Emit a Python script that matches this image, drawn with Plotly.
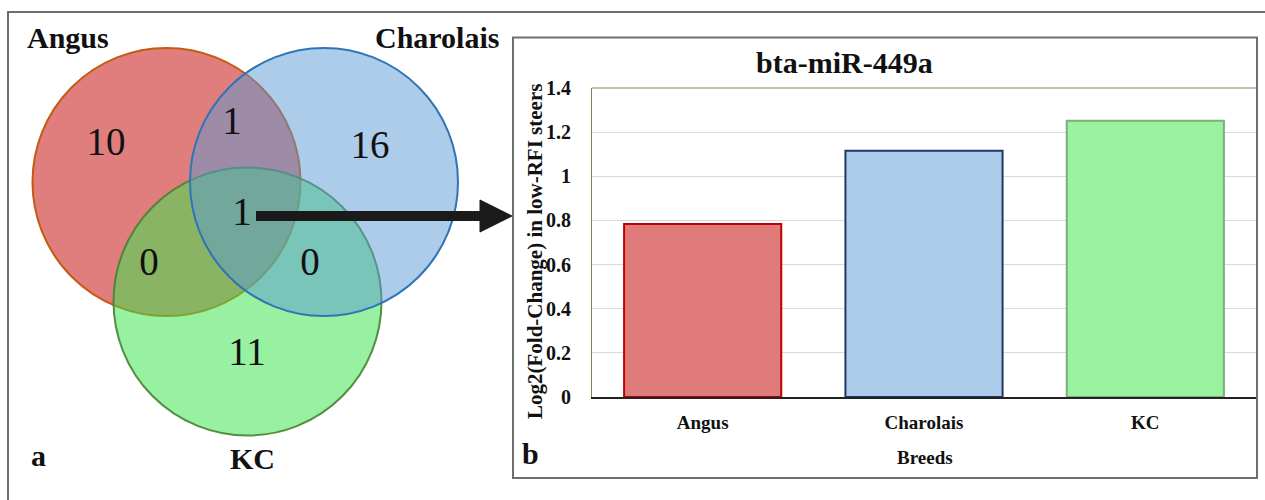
import plotly.graph_objects as go

# ---------------- data ----------------
breeds = ["Angus", "Charolais", "KC"]
log2_fc = [0.784, 1.116, 1.252]
y_ticks = [0, 0.2, 0.4, 0.6, 0.8, 1.0, 1.2, 1.4]
y_tick_labels = ["0", "0.2", "0.4", "0.6", "0.8", "1", "1.2", "1.4"]

venn_sets = ["Angus", "Charolais", "KC"]
venn_regions = ["A", "AC", "C", "ACK", "AK", "CK", "K"]
venn_counts = [10, 1, 16, 1, 0, 0, 11]

# ---------------- layout / style ----------------
W, H = 1265, 500
SERIF = "Liberation Serif"
bar_fill = ["#E07B7B", "#ADCBEA", "#98F29E"]
bar_edge = ["#C00000", "#1F3864", "#7DAE7D"]

# Venn geometry in pixel space (overlay axes x2/y2)
venn_circles = {
    "Angus": dict(cx=166.5, cy=182, r=134, fill="rgb(224,125,125)", line="#C55A11"),
    "KC": dict(cx=247.5, cy=301.5, r=134, fill="rgba(60,228,75,0.53)", line="rgba(70,130,50,0.9)"),
    "Charolais": dict(cx=324, cy=182, r=134, fill="rgba(91,153,211,0.5)", line="#2E75B6"),
}
draw_order = ["Angus", "KC", "Charolais"]
region_pos = {
    "A": (106, 145), "AC": (232, 124), "C": (370, 148), "ACK": (242, 215),
    "AK": (149, 265), "CK": (310, 265), "K": (247, 355),
}
set_label_pos = {"Angus": (68, 37), "Charolais": (437, 37), "KC": (252, 458)}

# bar-plot area in pixels
PL, PR, PT, PB = 592, 1256, 88, 397

fig = go.Figure()

fig.add_trace(go.Bar(
    x=breeds, y=log2_fc, width=0.71,
    marker=dict(color=bar_fill, line=dict(color=bar_edge, width=2)),
    xaxis="x", yaxis="y", showlegend=False, hoverinfo="x+y",
))

# Venn region counts as a text trace on the overlay axes
fig.add_trace(go.Scatter(
    x=[region_pos[r][0] for r in venn_regions],
    y=[region_pos[r][1] for r in venn_regions],
    text=[str(c) for c in venn_counts],
    mode="text", textposition="middle center",
    textfont=dict(family=SERIF, size=39, color="#111111"),
    xaxis="x2", yaxis="y2", showlegend=False, hoverinfo="skip",
))

shapes = []
# outer frame and inner panel box
shapes.append(dict(type="rect", xref="x2", yref="y2", x0=8, y0=12, x1=1270, y1=510,
                   line=dict(color="#6E6E6E", width=2), fillcolor="rgba(0,0,0,0)"))
shapes.append(dict(type="rect", xref="x2", yref="y2", x0=513, y0=37.5, x1=1257, y1=478,
                   line=dict(color="#6E6E6E", width=2), fillcolor="rgba(0,0,0,0)"))
# plot area top border (green)
shapes.append(dict(type="line", xref="x2", yref="y2", x0=PL, y0=PT, x1=PR, y1=PT,
                   line=dict(color="#6F8F55", width=1.2)))
# venn circles (below the count text)
for name in draw_order:
    c = venn_circles[name]
    shapes.append(dict(type="circle", xref="x2", yref="y2", layer="below",
                       x0=c["cx"] - c["r"], x1=c["cx"] + c["r"],
                       y0=c["cy"] - c["r"], y1=c["cy"] + c["r"],
                       fillcolor=c["fill"], line=dict(color=c["line"], width=2)))
# arrow
shapes.append(dict(type="line", xref="x2", yref="y2", x0=256, y0=216, x1=484, y1=216,
                   line=dict(color="#1A1A1A", width=10)))
shapes.append(dict(type="path", xref="x2", yref="y2",
                   path="M 480 200 L 512 216 L 480 232 Z",
                   fillcolor="#1A1A1A", line=dict(color="#1A1A1A", width=1)))

annotations = []
def ann(text, x, y, size, angle=0, weight="bold"):
    annotations.append(dict(text=text, x=x, y=y, xref="x2", yref="y2", showarrow=False,
                            xanchor="center", yanchor="middle", textangle=angle,
                            font=dict(family=SERIF, size=size, color="#111111", weight=weight)))

for name in venn_sets:
    ann(name, *set_label_pos[name], 30)
ann("a", 38, 455, 30)
ann("b", 530, 453, 30)
ann("bta-miR-449a", 844, 62, 30)
ann("Breeds", 925, 457, 19)
ann("Log2(Fold-Change) in low-RFI steers", 535, 252, 21, angle=-90)

fig.update_layout(
    width=W, height=H, autosize=False,
    margin=dict(l=0, r=0, t=0, b=0, pad=0, autoexpand=False),
    paper_bgcolor="white", plot_bgcolor="rgba(0,0,0,0)",
    shapes=shapes, annotations=annotations,
    xaxis=dict(domain=[PL / W, PR / W], range=[-0.5, 2.5], type="category",
               showgrid=False, showline=True, linecolor="#222222", linewidth=1.5,
               ticks="", ticklabelstandoff=7, anchor="y", automargin=False,
               tickfont=dict(family=SERIF, size=19, color="#111111", weight="bold"),
               fixedrange=True),
    yaxis=dict(domain=[(H - PB) / H, (H - PT) / H], range=[0, 1.4],
               tickvals=y_ticks, ticktext=y_tick_labels,
               showgrid=True, gridcolor="#D9D9D9", gridwidth=1,
               zeroline=False, showline=True, linecolor="#6F8F55", linewidth=1.2,
               ticks="", ticklabelstandoff=16, anchor="x", automargin=False,
               tickfont=dict(family=SERIF, size=20, color="#111111", weight="bold"),
               fixedrange=True),
    xaxis2=dict(domain=[0, 1], range=[0, W], visible=False, fixedrange=True,
                anchor="y2", automargin=False),
    yaxis2=dict(domain=[0, 1], range=[H, 0], visible=False, fixedrange=True,
                anchor="x2", automargin=False),
)

fig.write_html("out.html")
